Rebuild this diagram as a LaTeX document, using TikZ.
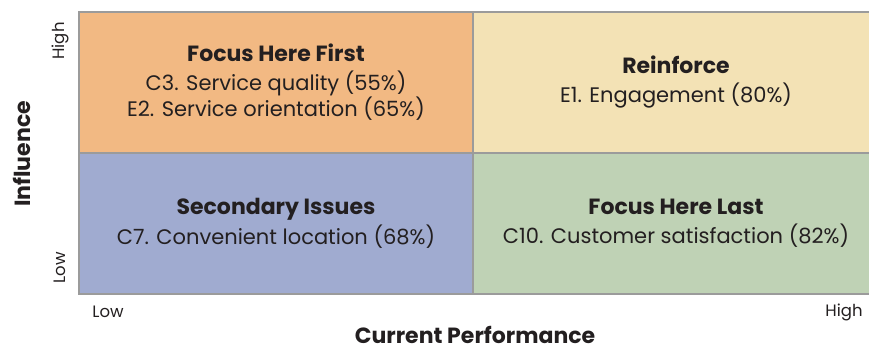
\documentclass[tikz,border=0pt]{standalone}
\usepackage{fontspec}
\setmainfont{Poppins}
\usetikzlibrary{positioning}
\definecolor{firstFill}{RGB}{242,185,131}
\definecolor{keepFill}{RGB}{243,226,181}
\definecolor{secFill}{RGB}{160,171,208}
\definecolor{lastFill}{RGB}{191,210,181}
\definecolor{gridLine}{RGB}{155,155,155}
\definecolor{inkDark}{RGB}{35,31,32}
\newcommand{\qhead}[1]{{\fontsize{22}{25}\selectfont\bfseries #1}\\[4pt]}

\begin{document}
\begin{tikzpicture}[
  x=1pt,y=1pt,
  font=\fontsize{21}{25}\selectfont,text=inkDark,
  quad/.style={draw=gridLine,line width=2.4pt,inner sep=0pt,outer sep=0pt,
               minimum height=141pt,align=center},
  tick/.style={font=\fontsize{16.5}{18}\selectfont,inner sep=0pt},
  axis/.style={font=\fontsize{22}{24}\selectfont\bfseries,inner sep=0pt}
]
\useasboundingbox (0,0) rectangle (869,-348);

% ==========  Quadrants  ==========
\node[quad,fill=firstFill,minimum width=394pt] (first) at (276,-82.5)
  {\qhead{Focus Here First}
   C3. Service quality (55\%)\\
   E2. Service orientation (65\%)};
\node[quad,fill=keepFill,minimum width=406pt] (keep) at (676,-82.5)
  {\qhead{Reinforce}
   E1. Engagement (80\%)};
\node[quad,fill=secFill,minimum width=394pt] (second) at (276,-223.5)
  {\qhead{Secondary Issues}
   C7. Convenient location (68\%)};
\node[quad,fill=lastFill,minimum width=406pt] (last) at (676,-223.5)
  {\qhead{Focus Here Last}
   C10. Customer satisfaction (82\%)};

% ==========  Axis ticks  ==========
\node[tick,rotate=90] (yhigh) at (60,-41) {High};
\node[tick,rotate=90] (ylow) at (60,-268) {Low};
\node[tick] (xlow) at (108,-312) {Low};
\node[tick] (xhigh) at (844,-312) {High};

% ==========  Axis titles  ==========
\node[axis,rotate=90] (infl) at (22,-154) {Influence};
\node[axis,anchor=base] (perf) at (475,-343) {Current Performance};

\end{tikzpicture}
\end{document}
